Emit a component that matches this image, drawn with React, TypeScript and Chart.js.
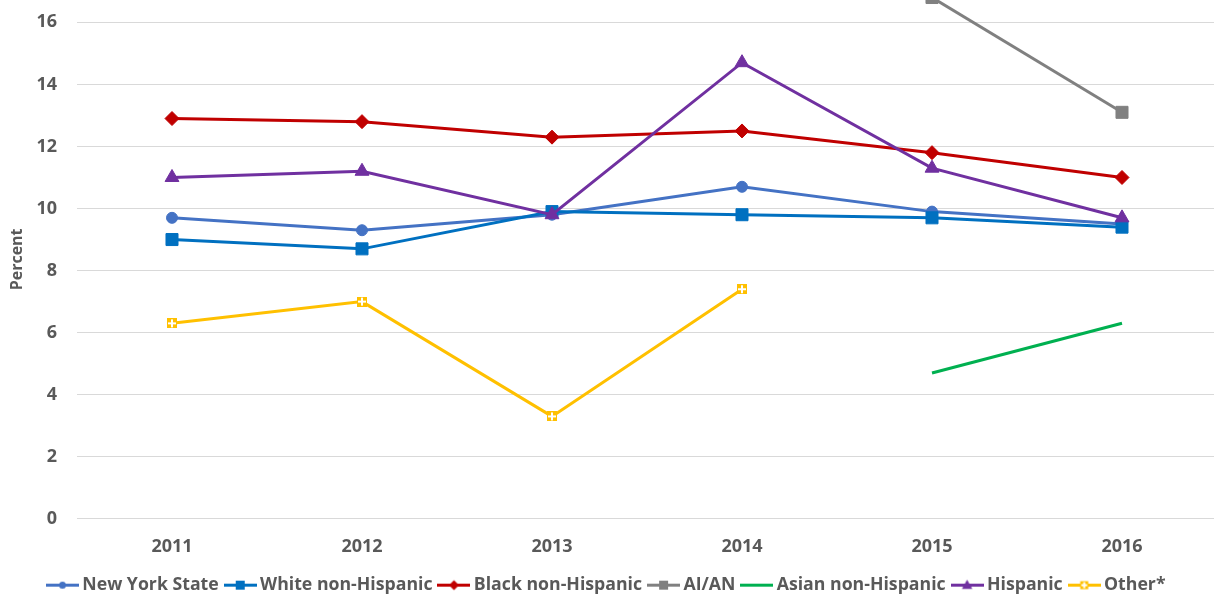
import React, { useEffect, useRef } from "react";
import { Chart, registerables } from "chart.js";

Chart.register(...registerables);

// ---- data ----
const years = ["2011", "2012", "2013", "2014", "2015", "2016"];
const newYorkState: (number | null)[] = [9.7, 9.3, 9.8, 10.7, 9.9, 9.5];
const whiteNonHispanic: (number | null)[] = [9.0, 8.7, 9.9, 9.8, 9.7, 9.4];
const blackNonHispanic: (number | null)[] = [12.9, 12.8, 12.3, 12.5, 11.8, 11.0];
const aiAn: (number | null)[] = [null, null, null, null, 16.8, 13.1];
const asianNonHispanic: (number | null)[] = [null, null, null, null, 4.7, 6.3];
const hispanic: (number | null)[] = [11.0, 11.2, 9.8, 14.7, 11.3, 9.7];
const otherRace: (number | null)[] = [6.3, 7.0, 3.3, 7.4, null, null];
const seriesNames = [
  "New York State",
  "White non-Hispanic",
  "Black non-Hispanic",
  "AI/AN",
  "Asian non-Hispanic",
  "Hispanic",
  "Other*",
];
const yTickStep = 2;
const yVisibleMax = 16.72;
const yAxisTitle = "Percent";

// ---- styles ----
const COLORS = ["#4472C4", "#0070C0", "#C00000", "#808080", "#00B050", "#7030A0", "#FFC000"];
const KINDS = ["circle", "square", "diamond", "square", "none", "triangle", "plus"];
const FONT = "'Open Sans', sans-serif";
const TEXT = "#595959";

function makeCanvas(w: number, h: number) {
  const c = document.createElement("canvas");
  c.width = w;
  c.height = h;
  return c;
}

function drawMarker(ctx: CanvasRenderingContext2D, kind: string, cx: number, cy: number, s: number, color: string) {
  ctx.fillStyle = color;
  if (kind === "circle") {
    ctx.beginPath();
    ctx.arc(cx, cy, s, 0, Math.PI * 2);
    ctx.fill();
  } else if (kind === "square") {
    ctx.fillRect(cx - s, cy - s, 2 * s, 2 * s);
  } else if (kind === "diamond") {
    ctx.beginPath();
    ctx.moveTo(cx, cy - s);
    ctx.lineTo(cx + s, cy);
    ctx.lineTo(cx, cy + s);
    ctx.lineTo(cx - s, cy);
    ctx.closePath();
    ctx.fill();
  } else if (kind === "triangle") {
    ctx.beginPath();
    ctx.moveTo(cx, cy - s);
    ctx.lineTo(cx + s * 0.95, cy + s * 0.7);
    ctx.lineTo(cx - s * 0.95, cy + s * 0.7);
    ctx.closePath();
    ctx.fill();
  } else if (kind === "plus") {
    ctx.fillRect(cx - s, cy - s, 2 * s, 2 * s);
    ctx.fillStyle = "#ffffff";
    ctx.fillRect(cx - s + 1, cy - 1, 2 * s - 2, 2);
    ctx.fillRect(cx - 1, cy - s + 1, 2, 2 * s - 2);
  }
}

export default function App() {
  const ref = useRef<HTMLCanvasElement>(null);

  useEffect(() => {
    const canvas = ref.current;
    if (!canvas) return;

    // chart marker for "Other*"
    const otherMarker = makeCanvas(10, 10);
    drawMarker(otherMarker.getContext("2d")!, "plus", 5, 5, 5, COLORS[6]);

    // legend icons (line + marker)
    const legendSizes = [3.5, 4.5, 5, 4.5, 0, 5.5, 4];
    const legendIcons = seriesNames.map((_, i) => {
      const c = makeCanvas(33, 13);
      const ctx = c.getContext("2d")!;
      ctx.fillStyle = COLORS[i];
      ctx.fillRect(0, 5, 33, 3);
      if (KINDS[i] !== "none") drawMarker(ctx, KINDS[i], 16.5, 6.5, legendSizes[i], COLORS[i]);
      return c;
    });

    const seriesData = [newYorkState, whiteNonHispanic, blackNonHispanic, aiAn, asianNonHispanic, hispanic, otherRace];
    const pointStyles: any[] = ["circle", "rect", "rectRot", "rect", "circle", "triangle", otherMarker];
    const pointRadii = [5.5, 8.5, 7, 8.5, 0, 8, 5];

    const datasets = seriesNames.map((name, i) => ({
      label: name,
      data: seriesData[i],
      borderColor: COLORS[i],
      backgroundColor: COLORS[i],
      borderWidth: 3,
      pointStyle: pointStyles[i],
      pointRadius: pointRadii[i],
      pointHoverRadius: pointRadii[i],
      pointBackgroundColor: COLORS[i],
      pointBorderColor: COLORS[i],
      pointBorderWidth: 1,
      tension: 0,
      spanGaps: false,
      order: seriesNames.length - i,
    }));

    const chart = new Chart(canvas, {
      type: "line",
      data: { labels: years, datasets },
      options: {
        animation: false,
        responsive: false,
        devicePixelRatio: 1,
        layout: { autoPadding: false, padding: { left: 0, right: 3, top: 0, bottom: 0 } },
        plugins: {
          tooltip: { enabled: false },
          title: { display: false },
          legend: {
            position: "bottom",
            align: "center",
            labels: {
              usePointStyle: true,
              pointStyleWidth: 22,
              padding: 10.5,
              color: TEXT,
              font: { family: FONT, size: 17.7, weight: "bold" },
              generateLabels: (c: any) =>
                c.data.datasets.map((ds: any, i: number) => ({
                  text: ds.label,
                  pointStyle: legendIcons[i],
                  fillStyle: COLORS[i],
                  strokeStyle: COLORS[i],
                  lineWidth: 0,
                  hidden: false,
                  datasetIndex: i,
                  fontColor: TEXT,
                })),
            },
          },
        },
        scales: {
          x: {
            offset: true,
            grid: { display: false, drawTicks: false },
            border: { display: false },
            ticks: {
              padding: 17,
              maxRotation: 0,
              color: TEXT,
              font: { family: FONT, size: 18, weight: "bold" },
            },
            afterFit: (s: any) => {
              s.height = 47;
            },
          },
          y: {
            min: 0,
            max: yVisibleMax,
            ticks: {
              stepSize: yTickStep,
              padding: 20,
              color: TEXT,
              font: { family: FONT, size: 18, weight: "bold" },
            },
            grid: { color: "#D9D9D9", lineWidth: 1, drawTicks: false },
            border: { display: false },
            title: {
              display: true,
              text: yAxisTitle,
              color: TEXT,
              font: { family: FONT, size: 16, weight: "bold" },
              padding: { top: 8, bottom: 0 },
            },
            afterBuildTicks: (s: any) => {
              s.ticks = s.ticks.filter((t: any) => Math.abs(t.value / yTickStep - Math.round(t.value / yTickStep)) < 1e-9);
            },
            afterFit: (s: any) => {
              s.width = 77;
              s.paddingTop = 0;
              s.paddingBottom = 0;
            },
          },
        },
      } as any,
    });

    return () => chart.destroy();
  }, []);

  return (
    <div
      style={{
        position: "fixed",
        left: 0,
        top: 0,
        width: 1214,
        height: 600,
        overflow: "hidden",
        background: "#ffffff",
      }}
    >
      <canvas ref={ref} width={1220} height={604} style={{ display: "block", width: 1220, height: 604 }} />
    </div>
  );
}
